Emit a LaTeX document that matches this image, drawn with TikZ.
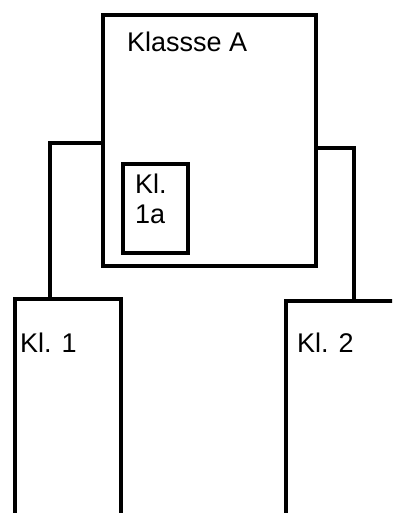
\documentclass[tikz,border=0pt]{standalone}
\usepackage{fontspec}
\setmainfont{Liberation Sans}
\begin{document}
\begin{tikzpicture}[x=1pt,y=-1pt,
  box/.style={draw=black,line width=4pt,rectangle,inner sep=0pt,outer sep=0pt,anchor=north west},
  lbl/.style={inner sep=0pt,anchor=base west,font=\fontsize{27}{30}\selectfont},
  conn/.style={draw=black,line width=4pt}]
\useasboundingbox (0,0) rectangle (392,513);
\clip (0,0) rectangle (392,513);
\node[box,minimum width=212.5pt,minimum height=250.7pt] (A) at (103,15.3) {};
\node[box,minimum width=64.5pt,minimum height=89.5pt] (a1) at (123,163.5) {};
\node[box,minimum width=106pt,minimum height=300pt] (k1) at (14.5,299) {};
\node[box,minimum width=200pt,minimum height=300pt] (k2) at (285.5,300.5) {};
\coordinate (c1) at (50,143.5);
\coordinate (c2) at (354,148);
\draw[conn] (A.west |- c1) -| (c1 |- k1.north);
\draw[conn] (A.east |- c2) -| (c2 |- k2.north);
\node[lbl] (tA) at (127,52) {Klassse A};
\node[lbl,align=left] (ta1) at (135,223) {Kl.\\1a};
\node[lbl] (tk1) at (20,352) {Kl. 1};
\node[lbl] (tk2) at (297,352) {Kl. 2};
\end{tikzpicture}
\end{document}
